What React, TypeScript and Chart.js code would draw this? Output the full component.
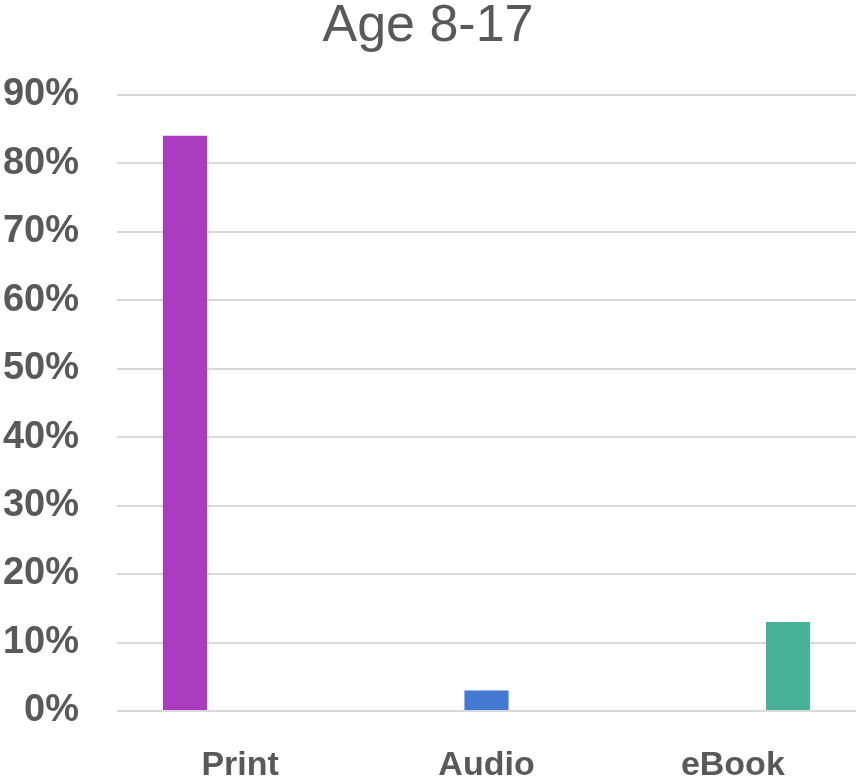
import React, { useEffect, useRef } from "react";
import { Chart, registerables } from "chart.js";

Chart.register(...registerables);

// Share of readers by format, ages 8-17
const categories = ["Print", "Audio", "eBook"];
const formatNames = ["Print", "Audio", "eBook"];
const printValues = [84, null, null];
const audioValues = [null, 3, null];
const ebookValues = [null, null, 13];
const yTicks = [0, 10, 20, 30, 40, 50, 60, 70, 80, 90];

const colors = ["#AA3DBE", "#4479D2", "#47B297"];
const textColor = "#595959";
const fontFamily = "'Liberation Sans', Arial, sans-serif";

export default function App() {
  const canvasRef = useRef<HTMLCanvasElement | null>(null);

  useEffect(() => {
    const canvas = canvasRef.current;
    if (!canvas) return;
    const series = [printValues, audioValues, ebookValues];
    const chart = new Chart(canvas, {
      type: "bar",
      data: {
        labels: categories,
        datasets: series.map((values, i) => ({
          label: formatNames[i],
          data: values,
          backgroundColor: colors[i],
          borderWidth: 0,
          barPercentage: 0.8,
          categoryPercentage: 0.672,
        })),
      },
      options: {
        responsive: false,
        animation: false,
        layout: { padding: { top: 0, right: 2, bottom: 0, left: 0 } },
        plugins: {
          legend: { display: false },
          tooltip: { enabled: false },
          title: {
            display: true,
            text: "Age 8-17",
            color: textColor,
            font: { family: fontFamily, size: 52, weight: "normal", lineHeight: 0.92 },
            padding: { top: 2.5, bottom: 44.2 },
          },
        },
        scales: {
          x: {
            grid: { display: false, drawTicks: false },
            border: { display: false },
            ticks: {
              color: textColor,
              padding: 34,
              font: { family: fontFamily, size: 34, weight: "bold" },
            },
            afterFit: (scale: any) => {
              scale.height = 71;
            },
          },
          y: {
            min: 0,
            max: 90,
            afterBuildTicks: (scale: any) => {
              scale.ticks = yTicks.map((v) => ({ value: v }));
            },
            grid: { color: "#D9D9D9", lineWidth: 2, drawTicks: false },
            border: { display: false },
            ticks: {
              color: textColor,
              padding: 38,
              font: { family: fontFamily, size: 38, weight: "bold" },
              callback: (v: any) => `${v}%`,
            },
            afterFit: (scale: any) => {
              scale.width = 117;
            },
          },
        },
      },
    });
    return () => chart.destroy();
  }, []);

  return (
    <div style={{ position: "absolute", left: 0, top: 0, width: 858, height: 782, background: "#fff" }}>
      <canvas ref={canvasRef} width={858} height={782} />
    </div>
  );
}
